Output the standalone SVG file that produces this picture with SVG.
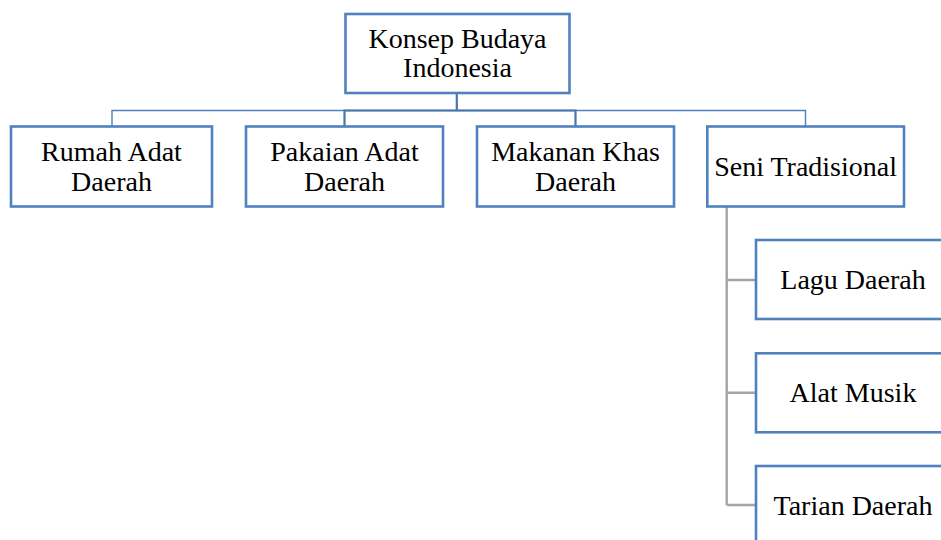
<svg xmlns="http://www.w3.org/2000/svg" width="941" height="540" viewBox="0 0 941 540">
<style>
.box{fill:#ffffff;stroke:#4f81bd;stroke-width:2.6}
.t{font-family:"Times New Roman","Liberation Serif","DejaVu Serif",serif;font-size:28px;fill:#000000;text-anchor:middle}
.c1{fill:none;stroke:#4f81bd;stroke-width:1.4}
.c2{fill:none;stroke:#4a76b0;stroke-width:2.2}
.g{fill:none;stroke:#a5a5a5;stroke-width:2.4}
</style>
<rect width="941" height="540" fill="#ffffff"/>
<g id="connectors">
<path class="c1" d="M112 126.5V110.5H805.5V126.5"/>
<path class="c2" d="M456.8 93V110.5M344.5 126.5V110.5H575.5V126.5"/>
<path class="g" d="M726.7 206V505M726.7 280H756M726.7 392.8H756M726.7 505H756"/>
</g>
<g id="n-konsep">
<rect class="box" x="345.5" y="14" width="224" height="79"/>
<text class="t" x="457.5" y="48">Konsep Budaya</text>
<text class="t" x="457.5" y="77">Indonesia</text>
</g>
<g id="n-rumah">
<rect class="box" x="11" y="126.5" width="201" height="80"/>
<text class="t" x="111.5" y="160.7">Rumah Adat</text>
<text class="t" x="111.5" y="190.7">Daerah</text>
</g>
<g id="n-pakaian">
<rect class="box" x="246" y="126.5" width="197" height="80"/>
<text class="t" x="344.5" y="160.7">Pakaian Adat</text>
<text class="t" x="344.5" y="190.7">Daerah</text>
</g>
<g id="n-makanan">
<rect class="box" x="477" y="126.5" width="197" height="80"/>
<text class="t" x="575.5" y="160.7">Makanan Khas</text>
<text class="t" x="575.5" y="190.7">Daerah</text>
</g>
<g id="n-seni">
<rect class="box" x="707.3" y="126.5" width="196.7" height="80"/>
<text class="t" x="805.6" y="176">Seni Tradisional</text>
</g>
<g id="n-lagu">
<rect class="box" x="756" y="240" width="196" height="79"/>
<text class="t" x="853" y="289.3">Lagu Daerah</text>
</g>
<g id="n-alat">
<rect class="box" x="756" y="353.3" width="196" height="79"/>
<text class="t" x="853" y="401.7">Alat Musik</text>
</g>
<g id="n-tarian">
<rect class="box" x="756" y="466" width="196" height="79"/>
<text class="t" x="853" y="515">Tarian Daerah</text>
</g>
</svg>
